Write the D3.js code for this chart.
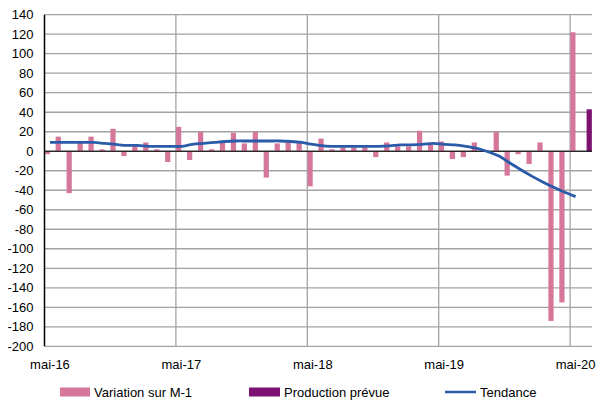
<!DOCTYPE html>
<html>
<head>
<meta charset="utf-8">
<script src="https://cdn.jsdelivr.net/npm/d3@7"></script>
<style>
  html, body { margin: 0; padding: 0; background: #fff; }
  svg { display: block; font-family: "Liberation Sans", Arial, sans-serif; }
</style>
</head>
<body>
<svg id="chart" width="596" height="401"></svg>
<script>
// Months from mai-16 to juin-20
const months = [
  "mai-16","juin-16","juil-16","août-16","sept-16","oct-16","nov-16","déc-16","janv-17","févr-17","mars-17","avr-17",
  "mai-17","juin-17","juil-17","août-17","sept-17","oct-17","nov-17","déc-17","janv-18","févr-18","mars-18","avr-18",
  "mai-18","juin-18","juil-18","août-18","sept-18","oct-18","nov-18","déc-18","janv-19","févr-19","mars-19","avr-19",
  "mai-19","juin-19","juil-19","août-19","sept-19","oct-19","nov-19","déc-19","janv-20","févr-20","mars-20","avr-20",
  "mai-20","juin-20"
];

// Month-on-month variation (null where no value)
const variation = [
  -3, 15, -43, 10, 15, 2, 23, -5, 6, 9, 2, -11,
  25, -9, 20, 2, 9, 19, 8, 20, -27, 8, 9, 10,
  -36, 13, 2, 4, 4, 4, -6, 9, 5, 5, 21, 7,
  10, -8, -6, 9, 1, 20, -25, -3, -13, 9, -174, -155,
  122, null
];

// Forecast production
const production = [
  null, null, null, null, null, null, null, null, null, null, null, null,
  null, null, null, null, null, null, null, null, null, null, null, null,
  null, null, null, null, null, null, null, null, null, null, null, null,
  null, null, null, null, null, null, null, null, null, null, null, null,
  null, 43
];

// Trend
const tendance = [
  9, 9, 9, 9, 9, 8, 7, 6, 6, 5, 5, 5,
  5, 7, 8, 9, 10, 10.5, 10.5, 10.5, 10.5, 10.5, 10, 9,
  7, 5.5, 5, 5, 5, 5, 5, 5.5, 6.5, 6.5, 7, 8,
  7, 6.5, 5, 3, -0.5, -5, -12, -19, -25.5, -31.5, -37, -42,
  -46.5, null
];

const yTicks = [140, 120, 100, 80, 60, 40, 20, 0, -20, -40, -60, -80, -100, -120, -140, -160, -180, -200];
const xLabels = ["mai-16", "mai-17", "mai-18", "mai-19", "mai-20"];
const seriesNames = ["Variation sur M-1", "Production prévue", "Tendance"];

const colors = { variation: "#d5779b", production: "#7b1170", tendance: "#2a5ba8" };

const svg = d3.select("#chart");
const plotLeft = 44.5, plotRight = 592, plotTop = 14.7, plotBottom = 346.3;

const x = d3.scaleBand().domain(months).range([plotLeft, plotRight]).paddingInner(0).paddingOuter(0);
const xs = d3.scaleBand().domain(["variation", "production"]).range([0, x.bandwidth()]).paddingInner(0.03).paddingOuter(0.03);
const y = d3.scaleLinear().domain([-200, 140]).range([plotBottom, plotTop]);

// horizontal grid
svg.append("g").selectAll("line").data(yTicks).join("line")
  .attr("x1", plotLeft).attr("x2", plotRight)
  .attr("y1", d => y(d)).attr("y2", d => y(d))
  .attr("stroke", "#a3a3a3").attr("stroke-width", 1.3);

// vertical grid at each May
svg.append("g").selectAll("line").data(xLabels.slice(1)).join("line")
  .attr("x1", d => x(d)).attr("x2", d => x(d))
  .attr("y1", plotTop).attr("y2", plotBottom)
  .attr("stroke", "#a3a3a3").attr("stroke-width", 1.3);

// y axis labels
const yAxis = d3.axisLeft(y).tickValues(yTicks).tickSize(0).tickPadding(11)
  .tickFormat(d => String(d));
const gy = svg.append("g").attr("transform", `translate(${plotLeft},0)`).call(yAxis);
gy.select(".domain").remove();
gy.selectAll("text").attr("font-size", 13).attr("fill", "#000")
  .attr("font-family", "Liberation Sans, Arial, sans-serif");

// x axis labels
const xAxis = d3.axisBottom(x).tickValues(xLabels).tickSize(0).tickPadding(0);
const gx = svg.append("g").attr("transform", `translate(0,${plotBottom + 13})`).call(xAxis);
gx.select(".domain").remove();
gx.selectAll("text").attr("font-size", 13).attr("fill", "#000")
  .attr("font-family", "Liberation Sans, Arial, sans-serif");

// bars: variation
svg.append("g").selectAll("rect")
  .data(months.map((m, i) => ({ m, v: variation[i] })).filter(d => d.v !== null))
  .join("rect")
  .attr("x", d => x(d.m) + xs("variation"))
  .attr("width", xs.bandwidth())
  .attr("y", d => y(Math.max(0, d.v)))
  .attr("height", d => Math.abs(y(d.v) - y(0)))
  .attr("fill", colors.variation);

// bars: production
svg.append("g").selectAll("rect")
  .data(months.map((m, i) => ({ m, v: production[i] })).filter(d => d.v !== null))
  .join("rect")
  .attr("x", d => x(d.m) + xs("production"))
  .attr("width", xs.bandwidth())
  .attr("y", d => y(Math.max(0, d.v)))
  .attr("height", d => Math.abs(y(d.v) - y(0)))
  .attr("fill", colors.production);

// zero line and left axis
svg.append("line").attr("x1", plotLeft).attr("x2", plotRight).attr("y1", y(0)).attr("y2", y(0))
  .attr("stroke", "#000").attr("stroke-width", 1.2);
svg.append("line").attr("x1", plotLeft).attr("x2", plotLeft).attr("y1", plotTop).attr("y2", plotBottom)
  .attr("stroke", "#000").attr("stroke-width", 1.5);

// trend line
const line = d3.line()
  .defined(d => d.v !== null)
  .x(d => x(d.m) + x.bandwidth() / 2)
  .y(d => y(d.v))
  .curve(d3.curveCatmullRom.alpha(0.5));
svg.append("path")
  .datum(months.map((m, i) => ({ m, v: tendance[i] })))
  .attr("d", line)
  .attr("fill", "none")
  .attr("stroke", colors.tendance)
  .attr("stroke-width", 2.8)
  .attr("stroke-linejoin", "round");

// legend
const legend = svg.append("g").attr("font-size", 13);
const ly = 392;
legend.append("rect").attr("x", 60).attr("y", ly - 4.5).attr("width", 30).attr("height", 9).attr("fill", colors.variation);
legend.append("text").attr("x", 94).attr("y", ly).attr("dy", "0.35em").text(seriesNames[0]);
legend.append("rect").attr("x", 249).attr("y", ly - 4.5).attr("width", 31).attr("height", 9).attr("fill", colors.production);
legend.append("text").attr("x", 284).attr("y", ly).attr("dy", "0.35em").text(seriesNames[1]);
legend.append("line").attr("x1", 445).attr("x2", 476).attr("y1", ly).attr("y2", ly)
  .attr("stroke", colors.tendance).attr("stroke-width", 2.5);
legend.append("text").attr("x", 480).attr("y", ly).attr("dy", "0.35em").text(seriesNames[2]);
</script>
</body>
</html>
